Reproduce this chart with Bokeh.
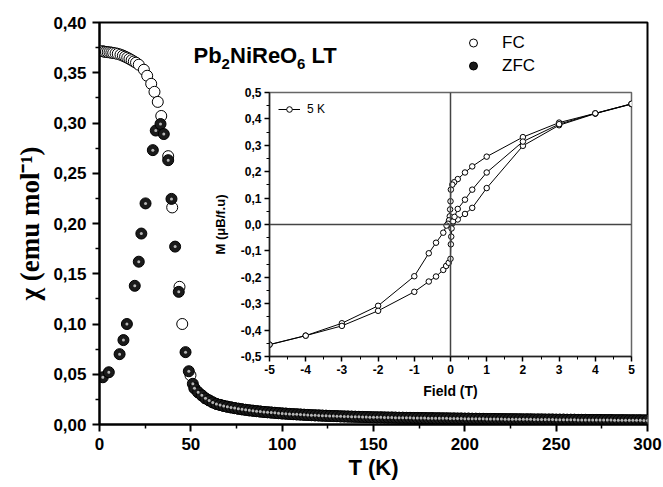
from bokeh.plotting import figure
from bokeh.models import FixedTicker, Label, Legend, LegendItem, Span, Range1d
from bokeh.layouts import column
from bokeh.embed import file_html
from bokeh.resources import INLINE

# ---------------- data: main chi(T) ----------------
T_fc_low = [1.5, 2.5, 3.5, 4.5, 5.5, 6.5, 7.5, 8.8, 10.0, 11.5, 12.8, 14.0, 15.2, 16.4,
            17.6, 18.8, 20.0, 21.5, 24.3, 26.1, 28.3, 30.1, 31.9, 33.8, 37.6, 39.8,
            43.8, 45.3, 49.8]
chi_fc_low = [0.3715, 0.371, 0.3707, 0.3705, 0.3703, 0.370, 0.3697, 0.3693, 0.3688, 0.368,
              0.367, 0.366, 0.365, 0.3638, 0.3625, 0.3612, 0.360, 0.358, 0.353, 0.347,
              0.339, 0.331, 0.321, 0.307, 0.267, 0.216, 0.137, 0.100, 0.049]

T_zfc_low = [1.8, 5.1, 11.0, 13.1, 15.0, 19.3, 21.5, 22.9, 25.2, 29.2, 30.8, 33.4, 35.2,
             37.6, 39.4, 41.4, 43.4, 47.1, 48.9, 51.1]
chi_zfc_low = [0.047, 0.052, 0.070, 0.084, 0.100, 0.138, 0.162, 0.190, 0.220, 0.273, 0.2925,
               0.299, 0.289, 0.263, 0.2245, 0.177, 0.132, 0.072, 0.053, 0.0405]

T_tail = [52, 54, 56, 58, 60, 62, 64, 66, 68, 70, 72, 74, 76, 78, 80, 82, 84, 86, 88, 90,
          92, 94, 96, 98, 100, 102, 104, 106, 108, 110, 112, 114, 116, 118, 120, 122, 124,
          126, 128, 130, 132, 134, 136, 138, 140, 142, 144, 146, 148, 150, 152, 154, 156,
          158, 160, 162, 164, 166, 168, 170, 172, 174, 176, 178, 180, 182, 184, 186, 188,
          190, 192, 194, 196, 198, 200, 202, 204, 206, 208, 210, 212, 214, 216, 218, 220,
          222, 224, 226, 228, 230, 232, 234, 236, 238, 240, 242, 244, 246, 248, 250, 252,
          254, 256, 258, 260, 262, 264, 266, 268, 270, 272, 274, 276, 278, 280, 282, 284,
          286, 288, 290, 292, 294, 296, 298, 300]
chi_tail = [0.036, 0.032, 0.029, 0.026, 0.024, 0.022, 0.0205, 0.0195, 0.0185, 0.0177,
            0.017, 0.0163, 0.0157, 0.0151, 0.0146, 0.0141, 0.0137, 0.0133, 0.0129, 0.0125,
            0.0122, 0.0119, 0.0116, 0.0113, 0.0110, 0.0108, 0.0105, 0.0103, 0.0101, 0.0099,
            0.0097, 0.0095, 0.0093, 0.0091, 0.0090, 0.0088, 0.0087, 0.0085, 0.0084, 0.0083,
            0.0081, 0.0080, 0.0079, 0.0078, 0.0077, 0.0076, 0.0075, 0.0074, 0.0073, 0.0072,
            0.0071, 0.0071, 0.0070, 0.0069, 0.0069, 0.0068, 0.0067, 0.0067, 0.0066, 0.0066,
            0.0065, 0.0065, 0.0064, 0.0064, 0.0063, 0.0063, 0.0062, 0.0062, 0.0061, 0.0061,
            0.0060, 0.0060, 0.0059, 0.0059, 0.0058, 0.0058, 0.0057, 0.0057, 0.0056, 0.0056,
            0.0055, 0.0055, 0.0055, 0.0054, 0.0054, 0.0053, 0.0053, 0.0053, 0.0052, 0.0052,
            0.0051, 0.0051, 0.0051, 0.0050, 0.0050, 0.0050, 0.0049, 0.0049, 0.0049, 0.0048,
            0.0048, 0.0048, 0.0047, 0.0047, 0.0047, 0.0046, 0.0046, 0.0046, 0.0045, 0.0045,
            0.0045, 0.0045, 0.0044, 0.0044, 0.0044, 0.0043, 0.0043, 0.0043, 0.0043, 0.0042,
            0.0042, 0.0042, 0.0042, 0.0041, 0.0041]

x_ticks = [0, 50, 100, 150, 200, 250, 300]
x_minor = [25, 75, 125, 175, 225, 275]
x_labels = ["0", "50", "100", "150", "200", "250", "300"]
y_ticks = [0.0, 0.05, 0.10, 0.15, 0.20, 0.25, 0.30, 0.35, 0.40]
y_minor = [0.025, 0.075, 0.125, 0.175, 0.225, 0.275, 0.325, 0.375]
y_labels = ["0,00", "0,05", "0,10", "0,15", "0,20", "0,25", "0,30", "0,35", "0,40"]

# ---------------- data: inset M(H) at 5 K ----------------
H_virgin = [0.0, 0.05, 0.2, 0.4, 0.6, 1.0, 2.0, 3.0, 4.0, 5.0]
M_virgin = [0.0, 0.004, 0.019, 0.040, 0.063, 0.138, 0.298, 0.376, 0.420, 0.456]
H_desc = [5.0, 4.0, 3.0, 2.0, 1.0, 0.6, 0.4, 0.2, 0.1, 0.05, 0.01, 0.0, -0.01, -0.02,
          -0.04, -0.07, -0.11, -0.2, -0.4, -0.6, -1.0, -2.0, -3.0, -4.0, -5.0]
M_desc = [0.457, 0.421, 0.386, 0.331, 0.257, 0.220, 0.197, 0.172, 0.160, 0.151, 0.132,
          0.088, 0.057, 0.031, 0.016, 0.003, -0.004, -0.031, -0.069, -0.109, -0.196,
          -0.308, -0.374, -0.421, -0.455]
H_asc = [-5.0, -4.0, -3.0, -2.0, -1.0, -0.6, -0.4, -0.2, -0.12, -0.05, 0.0, 0.01, 0.02,
         0.03, 0.07, 0.11, 0.2, 0.4, 0.6, 1.0, 2.0, 3.0, 4.0, 5.0]
M_asc = [-0.455, -0.421, -0.384, -0.327, -0.255, -0.216, -0.197, -0.172, -0.157, -0.145,
         -0.130, -0.075, -0.046, -0.015, 0.012, 0.029, 0.059, 0.094, 0.132, 0.197, 0.314,
         0.380, 0.421, 0.457]

ix_ticks = [-5, -4, -3, -2, -1, 0, 1, 2, 3, 4, 5]
ix_minor = [-4.5, -3.5, -2.5, -1.5, -0.5, 0.5, 1.5, 2.5, 3.5, 4.5]
ix_labels = ["-5", "-4", "-3", "-2", "-1", "0", "1", "2", "3", "4", "5"]
iy_ticks = [-0.5, -0.4, -0.3, -0.2, -0.1, 0.0, 0.1, 0.2, 0.3, 0.4, 0.5]
iy_minor = [-0.45, -0.35, -0.25, -0.15, -0.05, 0.05, 0.15, 0.25, 0.35, 0.45]
iy_labels = ["-0,5", "-0,4", "-0,3", "-0,2", "-0,1", "0,0", "0,1", "0,2", "0,3", "0,4", "0,5"]

SANS = "Liberation Sans"

# ---------------- main figure (frame: x 99..647, y 22..424) ----------------
p = figure(width=663, height=487, x_range=Range1d(0, 300), y_range=Range1d(0, 0.40),
           output_backend="svg", toolbar_location=None,
           min_border_left=99, min_border_right=16, min_border_top=22, min_border_bottom=63)
p.xgrid.visible = False
p.ygrid.visible = False
p.outline_line_color = "black"
p.outline_line_width = 2
p.outline_line_alpha = 1

p.xaxis.ticker = FixedTicker(ticks=x_ticks, minor_ticks=x_minor)
p.yaxis.ticker = FixedTicker(ticks=y_ticks, minor_ticks=y_minor)
p.xaxis.major_label_overrides = dict(zip(x_ticks, x_labels))
p.yaxis.major_label_overrides = dict(zip(y_ticks, y_labels))
for ax in (p.xaxis[0], p.yaxis[0]):
    ax.axis_line_width = 2
    ax.major_tick_line_width = 2
    ax.minor_tick_line_width = 1.5
    ax.major_tick_out = 7
    ax.major_tick_in = 0
    ax.minor_tick_out = 4
    ax.minor_tick_in = 0
    ax.major_label_text_font = SANS
    ax.major_label_text_font_style = "bold"
    ax.major_label_text_font_size = "17px"
    ax.major_label_text_color = "black"
    ax.axis_label_text_color = "black"
p.xaxis.major_label_standoff = 6
p.yaxis.major_label_standoff = 6
p.xaxis.axis_label = "T (K)"
p.xaxis.axis_label_text_font = SANS
p.xaxis.axis_label_text_font_style = "bold"
p.xaxis.axis_label_text_font_size = "22px"
p.xaxis.axis_label_standoff = 2
p.yaxis.axis_label = "χ (emu mol⁻¹)"
p.yaxis.axis_label_text_font = "Liberation Serif"
p.yaxis.axis_label_text_font_style = "bold"
p.yaxis.axis_label_text_font_size = "27px"
p.yaxis.axis_label_standoff = 5

fc = p.scatter(T_fc_low + T_tail, chi_fc_low + chi_tail, marker="circle", size=11,
               fill_color="white", line_color="black", line_width=1)
zfc = p.scatter(T_zfc_low + T_tail, chi_zfc_low + chi_tail, marker="circle", size=11,
                fill_color="#1a1a1a", line_color="black", line_width=1)
p.scatter(T_zfc_low + T_tail, chi_zfc_low + chi_tail, marker="circle", size=3,
          fill_color="#b5b5b5", line_color=None)

leg = Legend(items=[LegendItem(label="FC", renderers=[fc]),
                    LegendItem(label="ZFC", renderers=[zfc])],
             location=(364, 347), orientation="vertical", padding=0, margin=0, spacing=0,
             glyph_width=20, glyph_height=23, label_height=23, label_standoff=19,
             label_text_font=SANS, label_text_font_size="17px", label_text_color="black",
             border_line_color=None, background_fill_alpha=0)
p.add_layout(leg)

# title "Pb2NiReO6 LT" (frame-relative screen coords: frame left=99, bottom=424)
title_parts = [("Pb", 193, 55, "22px"), ("2", 221, 63, "15px"), ("NiReO", 229.5, 55, "22px"),
               ("6", 296.5, 63, "15px"), ("LT", 311, 55, "22px")]
for txt, px, py, fs in title_parts:
    p.add_layout(Label(x=px - 99, y=424 - py, x_units="screen", y_units="screen", text=txt,
                       text_font=SANS, text_font_style="bold", text_font_size=fs,
                       text_baseline="alphabetic", text_align="left", text_color="black"))

# ---------------- inset figure (frame: x 269..631, y 92..357) ----------------
# left/right borders equal the main figure's (the column aligns them)
ins = figure(width=477, height=315, x_range=Range1d(-5, 5), y_range=Range1d(-0.5, 0.5),
             output_backend="svg", toolbar_location=None,
             min_border_left=99, min_border_right=16, min_border_top=6, min_border_bottom=44,
             styles={"position": "absolute", "left": "170px", "top": "86px"})
ins.border_fill_alpha = 0
ins.background_fill_color = "white"
ins.xgrid.visible = False
ins.ygrid.visible = False
ins.outline_line_color = "#666666"
ins.outline_line_width = 1.5
ins.xaxis.ticker = FixedTicker(ticks=ix_ticks, minor_ticks=ix_minor)
ins.yaxis.ticker = FixedTicker(ticks=iy_ticks, minor_ticks=iy_minor)
ins.xaxis.major_label_overrides = dict(zip(ix_ticks, ix_labels))
ins.yaxis.major_label_overrides = dict(zip(iy_ticks, iy_labels))
for ax in (ins.xaxis[0], ins.yaxis[0]):
    ax.axis_line_width = 1.5
    ax.axis_line_color = "#222222"
    ax.major_tick_line_width = 1.5
    ax.minor_tick_line_width = 1
    ax.major_tick_out = 5
    ax.major_tick_in = 0
    ax.minor_tick_out = 3
    ax.minor_tick_in = 0
    ax.major_label_text_font = SANS
    ax.major_label_text_font_style = "bold"
    ax.major_label_text_font_size = "12px"
    ax.major_label_text_color = "black"
    ax.major_label_standoff = 3
    ax.axis_label_text_font = SANS
    ax.axis_label_text_font_style = "bold"
    ax.axis_label_text_color = "black"
ins.xaxis.axis_label = "Field (T)"
ins.xaxis.axis_label_text_font_size = "14px"
ins.xaxis.axis_label_standoff = 6
ins.yaxis.axis_label = "M (μB/f.u)"
ins.yaxis.axis_label_text_font_size = "13px"
ins.yaxis.axis_label_standoff = 10

ins.add_layout(Span(location=0, dimension="width", line_color="#444444", line_width=1.5))
ins.add_layout(Span(location=0, dimension="height", line_color="#444444", line_width=1.5))

legend_r = None
for H, M in ((H_virgin, M_virgin), (H_desc, M_desc), (H_asc, M_asc)):
    lr = ins.line(H, M, line_color="black", line_width=1)
    sr = ins.scatter(H, M, marker="circle", size=5.5, fill_color="white",
                     line_color="black", line_width=1)
    if legend_r is None:
        legend_r = [lr, sr]

ileg = Legend(items=[LegendItem(label="5 K", renderers=legend_r)],
              location=(9, 240), padding=0, margin=0, spacing=0,
              glyph_width=22, glyph_height=14, label_height=14, label_standoff=7,
              label_text_font=SANS, label_text_font_size="12px", label_text_color="black",
              border_line_color=None, background_fill_alpha=0)
ins.add_layout(ileg)

layout = column(p, ins, styles={"position": "relative"})
open("out.html", "w").write(file_html(layout, INLINE))
